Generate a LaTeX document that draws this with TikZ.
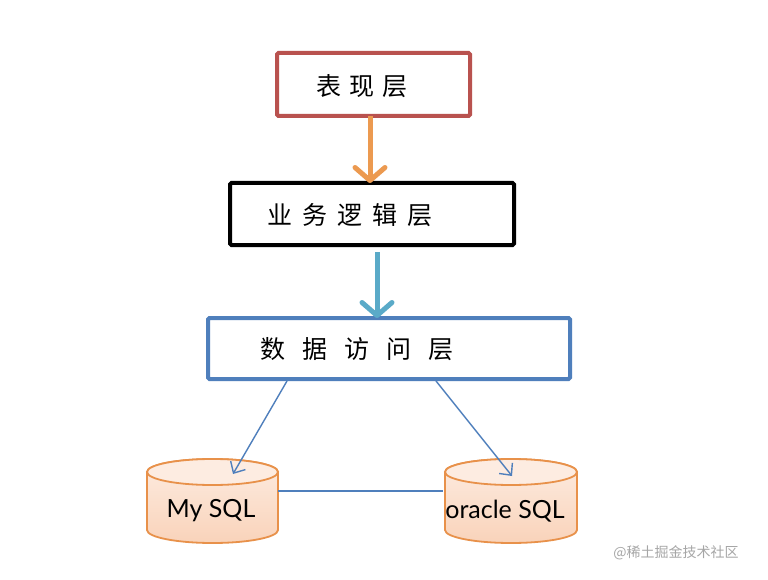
\documentclass[tikz,border=0pt]{standalone}
\usepackage{fontspec}
\setmainfont{Lato}
\newfontfamily\cjk{Noto Sans CJK SC}
\usetikzlibrary{arrows.meta}
\definecolor{redbrd}{HTML}{B9524F}
\definecolor{orarrow}{HTML}{EC9A50}
\definecolor{cyarrow}{HTML}{5AAAC8}
\definecolor{bluebrd}{HTML}{4F7FBC}
\definecolor{cylbrd}{HTML}{E8914A}
\definecolor{cyltop}{HTML}{FDECE1}
\definecolor{cylbot}{HTML}{F9D3BA}
\tikzset{
  layerbox/.style={draw, line width=4pt, rounded corners=1.5pt, fill=white, inner sep=0pt},
  bigarrow/.style={line width=5pt, -{Straight Barb[length=13pt,width=30pt,round]}},
  thinarrow/.style={draw=bluebrd, line width=1.4pt, -{Straight Barb[length=9pt,width=17pt]}},
  layertext/.style={font=\cjk\fontsize{25}{25}\selectfont, anchor=center},
  dbtext/.style={font=\fontsize{25}{25}\selectfont, anchor=center},
  cylstyle/.style={draw=cylbrd, line width=1.8pt, top color=cyltop, bottom color=cylbot},
}
\begin{document}
\begin{tikzpicture}[x=1pt,y=-1pt]
\useasboundingbox (0,0) rectangle (768,580);
\fill[white] (0,0) rectangle (768,580);

% layer boxes
\draw[layerbox, draw=redbrd] (277,53) rectangle (470,116);
\node[layertext] (l1) at (362,86) {表\hspace{8pt}现\hspace{8pt}层};
\coordinate (b1) at (370,116);

\draw[layerbox, draw=black] (230,183) rectangle (514,245);
\node[layertext] (l2) at (350,215) {业\hspace{10pt}务\hspace{10pt}逻\hspace{10pt}辑\hspace{10pt}层};
\coordinate (t2) at (370,183);
\coordinate (b2) at (377,252);

\draw[layerbox, draw=bluebrd] (208,318) rectangle (570,379);
\node[layertext] (l3) at (357,349) {数\hspace{17pt}据\hspace{17pt}访\hspace{17pt}问\hspace{17pt}层};
\coordinate (t3) at (377,318);
\coordinate (d1) at (287,381);
\coordinate (d2) at (436,381);

% thick arrows
\draw[bigarrow, orarrow] (b1) -- (t2);
\draw[bigarrow, cyarrow] (b2) -- (t3);

% cylinders
\path[cylstyle] (147,472) -- (147,530) arc[start angle=180,end angle=0,x radius=65.5,y radius=13] -- (278,472) arc[start angle=0,end angle=-180,x radius=65.5,y radius=13];
\draw[cylbrd, line width=1.8pt, fill=cyltop] (212.5,472) ellipse[x radius=65.5,y radius=13];
\node[dbtext] (my) at (211,511) {My SQL};
\coordinate (myt) at (233,474);
\coordinate (myr) at (278,491);

\path[cylstyle] (445,472) -- (445,530) arc[start angle=180,end angle=0,x radius=66,y radius=13] -- (577,472) arc[start angle=0,end angle=-180,x radius=66,y radius=13];
\draw[cylbrd, line width=1.8pt, fill=cyltop] (511,472) ellipse[x radius=66,y radius=13];
\node[dbtext] (or) at (505,511) {oracle SQL};
\coordinate (ort) at (512,476);
\coordinate (orl) at (443,491);

% thin connectors
\draw[thinarrow] (d1) -- (myt);
\draw[thinarrow] (d2) -- (ort);
\draw[bluebrd, line width=1.4pt] (myr) -- (orl);

% watermark
\node[font=\cjk\fontsize{14}{14}\selectfont, text=black!35, anchor=center] (wm) at (676,553) {@稀土掘金技术社区};
\end{tikzpicture}
\end{document}
